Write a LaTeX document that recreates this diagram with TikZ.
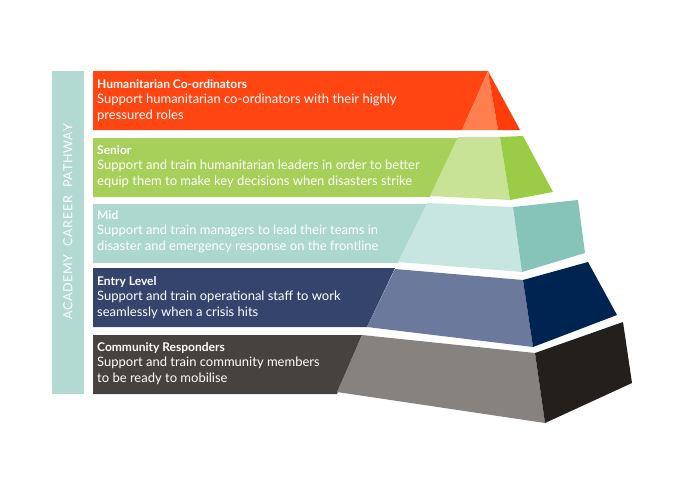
\documentclass[tikz,border=0pt]{standalone}
\usepackage{fontspec}
\setmainfont{Lato}
\definecolor{redA}{HTML}{FF4512}\definecolor{redB}{HTML}{FF7F4E}\definecolor{redC}{HTML}{FF3D0A}
\definecolor{grA}{HTML}{A6D05A}\definecolor{grB}{HTML}{C8E396}\definecolor{grC}{HTML}{9ACC45}
\definecolor{mdA}{HTML}{ADD8D0}\definecolor{mdB}{HTML}{C8E6E0}\definecolor{mdC}{HTML}{85C4B6}
\definecolor{enA}{HTML}{35446C}\definecolor{enB}{HTML}{6B7A9C}\definecolor{enC}{HTML}{002451}
\definecolor{cmA}{HTML}{454240}\definecolor{cmB}{HTML}{858280}\definecolor{cmC}{HTML}{231F1D}
\definecolor{barc}{HTML}{B2DAD2}
\tikzset{txt/.style={anchor=north west,align=left,text=white,font=\fontsize{13}{15.5}\selectfont,inner sep=0pt}}
\newcommand{\hd}[1]{{\bfseries\fontsize{12}{15.5}\selectfont #1}}
\begin{document}
\begin{tikzpicture}[x=1pt,y=-1pt]
\useasboundingbox (0,0) rectangle (700,495);
\fill[barc] (52,71) rectangle (84,394);
\node[rotate=90,text=white,font=\fontsize{12.5}{13}\selectfont\addfontfeature{LetterSpace=6},inner sep=0pt] (bar) at (68,222) {ACADEMY\ \ CAREER\ \ PATHWAY};
% tier 1
\fill[redA] (93,71) -- (488,71) -- (462,130) -- (93,130) -- cycle;
\fill[redB] (488,71) -- (462,130) -- (498,130) -- cycle;
\fill[redC] (488,71) -- (498,130) -- (520,130) -- cycle;
% tier 2
\fill[grA] (93,138) -- (458,138) -- (430,197) -- (93,197) -- cycle;
\fill[grB] (458,137) -- (500,137) -- (510,200) -- (430,196) -- cycle;
\fill[grC] (500,137) -- (523,136) -- (553,192) -- (510,200) -- cycle;
% tier 3
\fill[mdA] (93,204) -- (427,204) -- (398,263) -- (93,263) -- cycle;
\fill[mdB] (427,203) -- (513,207) -- (522,272) -- (398,262) -- cycle;
\fill[mdC] (513,207) -- (578,200) -- (585,253) -- (522,272) -- cycle;
% tier 4
\fill[enA] (93,268) -- (395,268) -- (367,327) -- (93,327) -- cycle;
\fill[enB] (395,269) -- (523,280) -- (533,347) -- (367,327) -- cycle;
\fill[enC] (523,280) -- (588,262) -- (617,315) -- (533,347) -- cycle;
% tier 5
\fill[cmA] (93,335) -- (362,335) -- (337,394) -- (93,394) -- cycle;
\fill[cmB] (362,335) -- (535,353) -- (545,423) -- (337,392) -- cycle;
\fill[cmC] (535,353) -- (623,322) -- (632,383) -- (545,423) -- cycle;
\node[txt] (t1) at (97,79) {\hd{Humanitarian Co-ordinators}\\Support humanitarian co-ordinators with their highly\\pressured roles};
\node[txt] (t2) at (97,145) {\hd{Senior}\\Support and train humanitarian leaders in order to better\\equip them to make key decisions when disasters strike};
\node[txt] (t3) at (97,210) {\hd{Mid}\\Support and train managers to lead their teams in\\disaster and emergency response on the frontline};
\node[txt] (t4) at (97,276) {\hd{Entry Level}\\Support and train operational staff to work\\seamlessly when a crisis hits};
\node[txt] (t5) at (97,342) {\hd{Community Responders}\\Support and train community members\\to be ready to mobilise};
\end{tikzpicture}
\end{document}
